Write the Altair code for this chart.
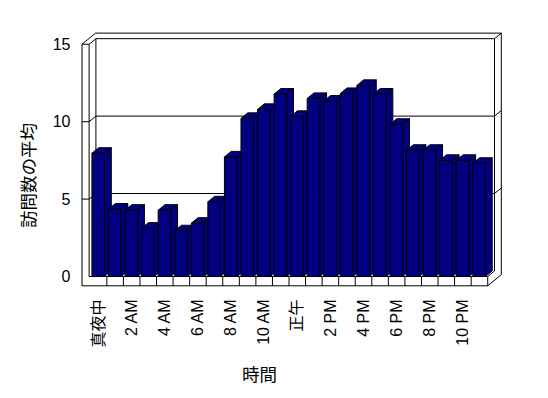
import altair as alt
import pandas as pd

# ---- data ----
HOURS = list(range(24))
VISITS = [7.96, 4.35, 4.28, 3.12, 4.28, 2.95, 3.44, 4.82, 7.72, 10.21, 10.79, 11.78,
          10.34, 11.50, 11.33, 11.82, 12.34, 11.78, 9.83, 8.15, 8.15, 7.50, 7.50, 7.31]
TICK_LABELS = ["真夜中", "2 AM", "4 AM", "6 AM", "8 AM", "10 AM",
               "正午", "2 PM", "4 PM", "6 PM", "8 PM", "10 PM"]
Y_TICKS = [0, 5, 10, 15]
GRID_VALUES = [5, 10]

# ---- 3D geometry (in data units) ----
N = len(HOURS)
BAR_L, BAR_R = 0.10, 0.86
DX, DV = 0.41, 0.36
WALL_OUT, WALL_IN = -0.5, -0.07
FLOOR = -0.6
TOP = 15
NAVY = "#000080"
FONT = "Liberation Sans, Noto Sans CJK JP, sans-serif"

front = pd.DataFrame({
    "bar": HOURS,
    "x": [h + BAR_L for h in HOURS],
    "x2": [h + BAR_R for h in HOURS],
    "y": [0.0] * N,
    "y2": VISITS,
})

side_rows, top_rows = [], []
for h, v in zip(HOURS, VISITS):
    side_rows += [
        {"bar": h, "x": h + BAR_R, "y2": 0.0, "y": v},
        {"bar": h, "x": h + BAR_R + DX, "y2": DV, "y": v + DV},
    ]
    top_rows += [
        {"bar": h, "x": h + BAR_L, "y2": v, "y": v},
        {"bar": h, "x": h + BAR_L + DX, "y2": v, "y": v + DV},
        {"bar": h, "x": h + BAR_R, "y2": v, "y": v + DV},
        {"bar": h, "x": h + BAR_R + DX, "y2": v + DV, "y": v + DV},
    ]
side = pd.DataFrame(side_rows)
topf = pd.DataFrame(top_rows)

LX, IX, R = WALL_OUT, WALL_IN, N
segs = [
    (LX, FLOOR, LX, TOP), (IX, 0, IX, TOP), (LX, TOP, IX, TOP),
    (LX, TOP, LX + 2 * DX, TOP + 2 * DV), (IX, TOP, IX + DX, TOP + DV),
    (IX + DX, DV, IX + DX, TOP + DV),
    (LX + 2 * DX, TOP + 2 * DV, R + 2 * DX, TOP + 2 * DV),
    (IX + DX, TOP + DV, R + DX, TOP + DV),
    (R + DX, DV, R + DX, TOP + DV),
    (R + 2 * DX, FLOOR + 2 * DV, R + 2 * DX, TOP + 2 * DV),
    (R + DX, TOP + DV, R + 2 * DX, TOP + 2 * DV),
    (LX, FLOOR, R, FLOOR), (IX, 0, R, 0), (R, FLOOR, R, 0),
    (R, FLOOR, R + 2 * DX, FLOOR + 2 * DV), (R, 0, R + DX, DV),
]
segs += [(i, FLOOR, i, 0) for i in range(1, N)]
for t in GRID_VALUES:
    segs += [(LX, t, IX, t), (IX, t, IX + DX, t + DV),
             (IX + DX, t + DV, R + DX, t + DV), (R + DX, t + DV, R + 2 * DX, t + 2 * DV)]
frame = pd.DataFrame(segs, columns=["x", "y", "x2", "y2"])

# ---- scales ----
WIDTH, HEIGHT = 420, 264
PXX = 16.56
XMIN = WALL_OUT
XMAX = XMIN + WIDTH / PXX
YMIN, YMAX = -1.0, 16.05
xs = alt.Scale(domain=[XMIN, XMAX], nice=False, zero=False)
ys = alt.Scale(domain=[YMIN, YMAX], nice=False, zero=False)

CENTER = (BAR_L + BAR_R) / 2
label_vals = [h + CENTER for h in HOURS[::2]]
label_arr = "[" + ",".join("'" + s + "'" for s in TICK_LABELS) + "]"
label_expr = f"{label_arr}[round((datum.value - {CENTER}) / 2)]"

x_axis = alt.Axis(values=label_vals, labelExpr=label_expr, labelAngle=-90,
                  labelFont=FONT, labelFontSize=16, labelColor="black",
                  labelPadding=7, labelFlush=False, labelOverlap=False,
                  ticks=False, domain=False, grid=False,
                  title="時間", titleFont=FONT, titleFontSize=17.5,
                  titleFontWeight="normal", titleColor="black",
                  titleX=177, titleY=83, titleAlign="center", titleBaseline="middle")
y_axis = alt.Axis(values=Y_TICKS, labelFont=FONT, labelFontSize=16, labelColor="black",
                  labelPadding=12, labelFlush=False, labelOverlap=False,
                  ticks=False, domain=False, grid=False,
                  title="訪問数の平均", titleFont=FONT, titleFontSize=17.5,
                  titleFontWeight="normal", titleColor="black", titleAngle=-90,
                  titleX=-53, titleY=147, titleAlign="center", titleBaseline="middle")

X = alt.X("x:Q", scale=xs, axis=x_axis)
Y = alt.Y("y:Q", scale=ys, axis=y_axis)

frame_layer = alt.Chart(frame).mark_rule(color="black", strokeWidth=1).encode(
    x=X, x2="x2:Q", y=Y, y2="y2:Q")

area_style = dict(orient="vertical", fill=NAVY, stroke="black", strokeWidth=1,
                  opacity=1, fillOpacity=1)
side_layer = alt.Chart(side).mark_area(**area_style).encode(
    x=X, y=Y, y2="y2:Q", detail="bar:N")
top_layer = alt.Chart(topf).mark_area(**area_style).encode(
    x=X, y=Y, y2="y2:Q", detail="bar:N")

front_layer = alt.Chart(front).mark_rect(fill=NAVY, stroke="black", strokeWidth=1).encode(
    x=X, x2="x2:Q", y=Y, y2="y2:Q")

chart = alt.layer(frame_layer, side_layer, top_layer, front_layer).properties(
    width=WIDTH, height=HEIGHT,
    padding={"left": 82, "top": 28, "right": 548 - 82 - WIDTH, "bottom": 398 - 28 - HEIGHT},
    autosize=alt.AutoSizeParams(type="none"),
    background="white",
).configure_view(stroke=None)

chart.save("out.html", embed_options={"renderer": "svg", "actions": False})
